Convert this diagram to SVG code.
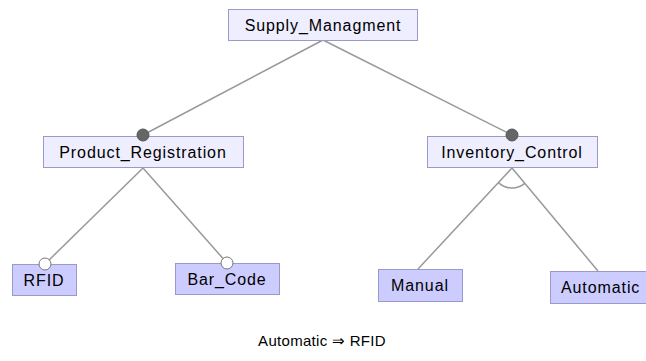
<svg xmlns="http://www.w3.org/2000/svg" width="646" height="361" viewBox="0 0 646 361">
<style>
.p{fill:#eeeeff;stroke:#9999cc;stroke-width:1}
.l{fill:#ccccff;stroke:#9999cc;stroke-width:1}
text{font-family:"Liberation Sans",Arial,sans-serif;font-size:16px;letter-spacing:0.9px;fill:#000;text-anchor:middle}
.c{stroke:#999;stroke-width:1.5;fill:none}
.m{fill:#666;stroke:#555}
.o{fill:#fff;stroke:#777;stroke-width:1}
</style>
<rect width="646" height="361" fill="#fff"/>
<g id="connectors">
<line class="c" x1="323" y1="40" x2="143" y2="135"/>
<line class="c" x1="323" y1="40" x2="512" y2="135"/>
<line class="c" x1="143" y1="168" x2="45" y2="264"/>
<line class="c" x1="143" y1="168" x2="227" y2="263"/>
<line class="c" x1="512" y1="168" x2="418" y2="269"/>
<line class="c" x1="512" y1="168" x2="598" y2="271"/>
<path class="c" d="M498.4,182.6 A20 20 0 0 0 524.8,183.4"/>
</g>
<g id="supply">
<rect class="p" x="228.5" y="9.5" width="189" height="31"/>
<text x="323" y="31">Supply_Managment</text>
</g>
<g id="product">
<rect class="p" x="43.5" y="136.5" width="200" height="31"/>
<text x="143" y="158">Product_Registration</text>
<circle class="m" cx="143" cy="135" r="6"/>
</g>
<g id="inventory">
<rect class="p" x="427.5" y="136.5" width="170" height="31"/>
<text x="512" y="158">Inventory_Control</text>
<circle class="m" cx="512" cy="135" r="6"/>
</g>
<g id="rfid">
<rect class="l" x="12.5" y="264.5" width="64" height="31"/>
<text x="44" y="286">RFID</text>
<circle class="o" cx="45" cy="264" r="6"/>
</g>
<g id="barcode">
<rect class="l" x="175.5" y="263.5" width="104" height="31"/>
<text x="227" y="285">Bar_Code</text>
<circle class="o" cx="227" cy="263" r="6"/>
</g>
<g id="manual">
<rect class="l" x="378.5" y="269.5" width="84" height="32"/>
<text x="420" y="291">Manual</text>
</g>
<g id="automatic">
<rect class="l" x="550.5" y="271.5" width="100" height="32"/>
<text x="561" y="293" style="text-anchor:start">Automatic</text>
</g>
<text x="322" y="346" style="font-size:15px;letter-spacing:0.3px">Automatic ⇒ RFID</text>
</svg>
